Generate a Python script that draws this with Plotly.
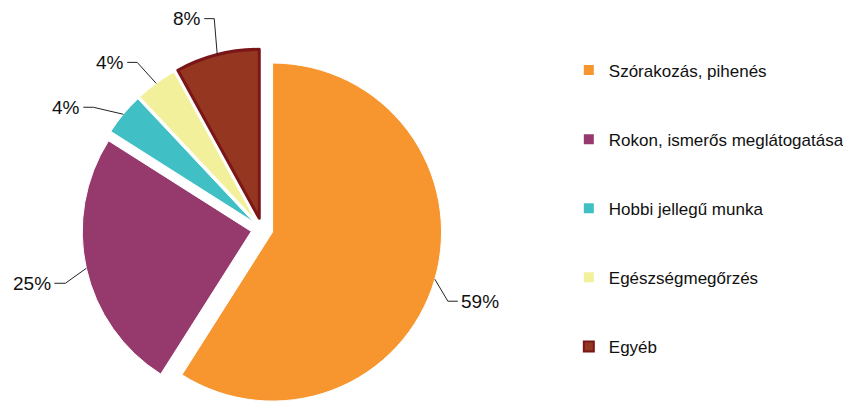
import math
import plotly.graph_objects as go

# ---- data ----
categories = ["Szórakozás, pihenés", "Rokon, ismerős meglátogatása", "Hobbi jellegű munka",
              "Egészségmegőrzés", "Egyéb"]
shares = [59, 25, 4, 4, 8]
pct_labels = ["59%", "25%", "4%", "4%", "8%"]

# ---- style ----
colors = ["#F7952F", "#963A6E", "#40C0C4", "#F2F09B", "#943620"]
line_colors = ["#FFFFFF", "#FFFFFF", "#FFFFFF", "#FFFFFF", "#7A1518"]
line_widths = [1, 1, 1, 1, 3]
PULL = 0.065
W, H = 851, 401
OFF = 8                    # page body margin compensation (px)
CX, CY = 262 - OFF, 229 - OFF   # pie centre in figure px
HALF = H - CY              # half size of the pie domain in px
FONT = "Liberation Sans, Arial, sans-serif"
# elbow offsets (px) and horizontal tail for each label
elbow = [(13, 22), (-21, 15), (-30, -7), (-19, -21), (-3, -36)]
tail = [10, -11, -10, -10, -10]

fig = go.Figure()
fig.add_trace(go.Pie(
    values=shares, labels=categories, sort=False, direction="clockwise", rotation=0,
    marker=dict(colors=colors, line=dict(color=line_colors, width=line_widths)),
    pull=[PULL] * len(shares), textinfo="none", hoverinfo="label+percent",
    showlegend=False,
    domain=dict(x=[(CX - HALF) / W, (CX + HALF) / W], y=[0, 2 * HALF / H]),
))

# legend via marker-only traces
for c, lc, lw, name in zip(colors, line_colors, line_widths, categories):
    fig.add_trace(go.Scatter(
        x=[None], y=[None], mode="markers", name=name, legendgroup=name,
        marker=dict(symbol="square", size=10, color=c,
                    line=dict(color=lc if lw > 1 else c, width=2 if lw > 1 else 0)),
    ))

# leader lines + percentage labels computed from the pie geometry
r = HALF / (1 + PULL)
total = sum(shares)
start = 0.0
shapes, annotations = [], []


def to_paper(x, y):
    return x / W, 1 - y / H


for i, v in enumerate(shares):
    ang = start + 360 * v / total / 2
    start += 360 * v / total
    dx, dy = math.sin(math.radians(ang)), -math.cos(math.radians(ang))
    px0, py0 = CX + r * (1 + PULL) * dx, CY + r * (1 + PULL) * dy
    px1, py1 = px0 + elbow[i][0], py0 + elbow[i][1]
    px2, py2 = px1 + tail[i], py1
    a, b, c = to_paper(px0, py0), to_paper(px1, py1), to_paper(px2, py2)
    shapes.append(dict(type="path", xref="paper", yref="paper",
                       path=f"M {a[0]} {a[1]} L {b[0]} {b[1]} L {c[0]} {c[1]}",
                       line=dict(color="#222222", width=1)))
    annotations.append(dict(x=c[0], y=c[1], xref="paper", yref="paper",
                            text=pct_labels[i], showarrow=False, borderpad=0,
                            xanchor="left" if tail[i] > 0 else "right", yanchor="middle",
                            xshift=2 if tail[i] > 0 else -2,
                            font=dict(family=FONT, size=19, color="#111111")))

fig.update_layout(
    width=W, height=H, margin=dict(l=0, r=0, t=0, b=0),
    paper_bgcolor="white", plot_bgcolor="white",
    xaxis=dict(visible=False), yaxis=dict(visible=False),
    shapes=shapes, annotations=annotations,
    legend=dict(x=0.659, y=0.889, xanchor="left", yanchor="top",
                font=dict(family=FONT, size=17, color="#111111"),
                tracegroupgap=44, itemclick=False, itemdoubleclick=False,
                bgcolor="rgba(0,0,0,0)"),
    showlegend=True,
)

fig.write_html("out.html")
